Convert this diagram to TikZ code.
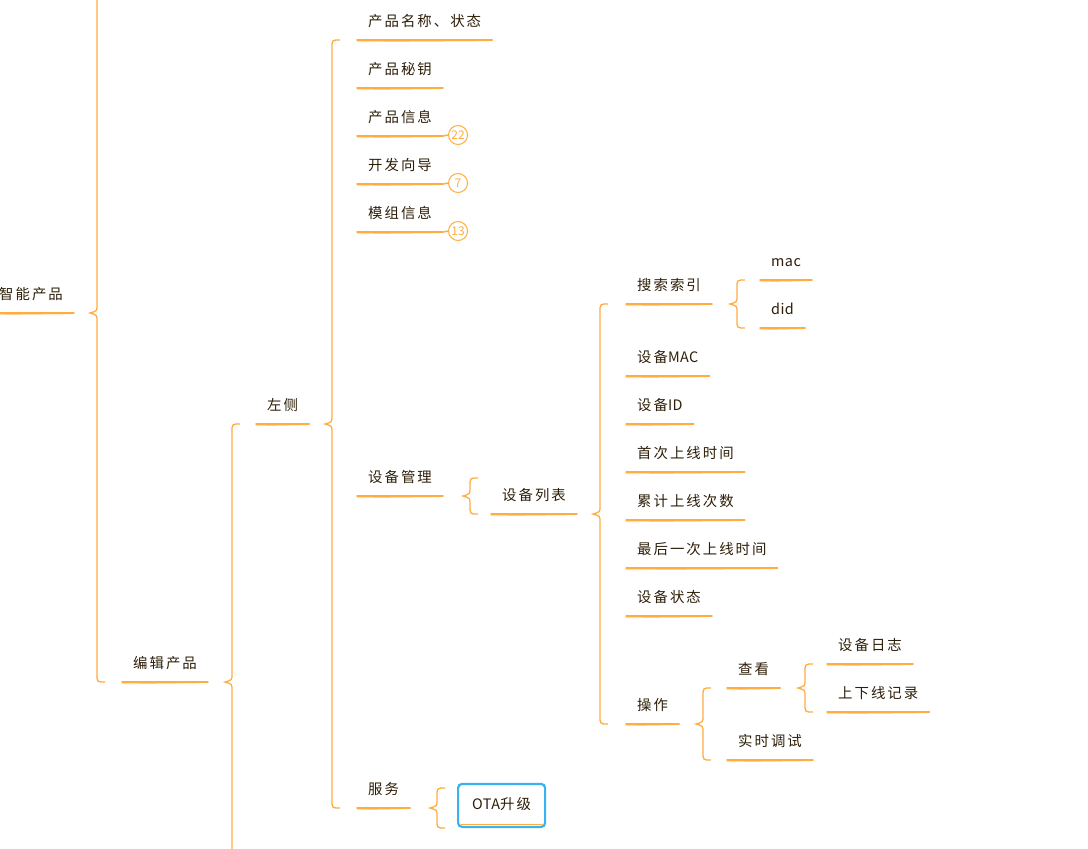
\documentclass[tikz,border=0pt]{standalone}
\usepackage{fontspec}
\newfontfamily\cjk[LetterSpace=14]{Noto Sans CJK SC}
\newfontfamily\chiffre{Noto Sans CJK SC}
\newfontfamily\latin[LetterSpace=3]{Noto Sans CJK SC}
\usetikzlibrary{calc}
\definecolor{monOrange}{RGB}{255,172,64}
\definecolor{monTexte}{RGB}{45,30,8}
\definecolor{monBleu}{RGB}{56,178,240}

% accolade : parent, enfant du haut, enfant du bas
\newcommand{\accolade}[4][24]{%
  \draw[trait] let \p1=(#2.south east), \p2=(#3), \p3=(#4), \p4=([xshift=-#1pt]#4) in
    (\x4+8pt,\y2) .. controls (\x4,\y2) .. (\x4,\y2-8pt)
    -- (\x4,\y1+8pt) .. controls (\x4,\y1+2pt) .. (\x4-7pt,\y1)
    .. controls (\x4,\y1-2pt) .. (\x4,\y1-8pt)
    -- (\x4,\y3+8pt) .. controls (\x4,\y3) .. (\x4+8pt,\y3);}

\begin{document}
\begin{tikzpicture}[x=1pt, y=-1pt,
    sujet/.style={font=\cjk\fontsize{14.4}{16}\selectfont, text=monTexte, anchor=south west,
      inner xsep=11pt, inner ysep=10pt, text height=11pt, text depth=3pt},
    trait/.style={monOrange, line width=1.3pt},
    souligne/.style={monOrange, line width=1.4pt, line cap=round},
    pastille/.style={circle, draw=monOrange, line width=1pt, minimum size=19pt, inner sep=0pt,
      text=monOrange, anchor=west, font=\chiffre\fontsize{12}{13}\selectfont},
    boite/.style={draw=monBleu, line width=2.2pt, rounded corners=4pt,
      minimum width=87pt, minimum height=43pt, inner xsep=0pt}]
        \useasboundingbox (0,0) rectangle (1088,849);
        \clip (0,0) rectangle (1088,849);

        % Racine et premier niveau
        \node[sujet] (zn) at (-12,313) {智能产品};
        \node[sujet] (bj) at (122,682) {编辑产品};
        \node[sujet] (zc) at (256,424) {左侧};
        \coordinate (haut) at (122,-40);
        \coordinate (bas) at (256,900);

        % Colonne de gauche
        \node[sujet] (mc) at (357,40) {产品名称、状态};
        \node[sujet] (my) at (357,88) {产品秘钥};
        \node[sujet] (xx) at (357,136) {产品信息};
        \node[sujet] (xd) at (357,184) {开发向导};
        \node[sujet] (mz) at (357,232) {模组信息};
        \node[sujet] (sg) at (357,496) {设备管理};
        \node[sujet] (fw) at (357,808) {服务};

        % Pastilles
        \node[pastille] (p22) at ([xshift=5pt,yshift=1pt]xx.south east) {22};
        \node[pastille] (p7) at ([xshift=5pt,yshift=1pt]xd.south east) {7};
        \node[pastille] (p13) at ([xshift=5pt,yshift=1pt]mz.south east) {13};

        % Gestion des appareils
        \node[sujet] (lb) at (491,514) {设备列表};
        \node[sujet, boite] (ota) at (457,828) {{\latin OTA}升级};
        \node[sujet] (ss) at (626,304) {搜索索引};
        \node[sujet] (mac) at (760,280) {\latin mac};
        \node[sujet] (did) at (760,328) {\latin did};
        \node[sujet] (smac) at (626,376) {设备{\latin MAC}};
        \node[sujet] (sid) at (626,424) {设备{\latin ID}};
        \node[sujet] (sc) at (626,472) {首次上线时间};
        \node[sujet] (lj) at (626,520) {累计上线次数};
        \node[sujet] (zh) at (626,568) {最后一次上线时间};
        \node[sujet] (zt) at (626,616) {设备状态};
        \node[sujet] (cz) at (626,724) {操作};
        \node[sujet] (ck) at (727,688) {查看};
        \node[sujet] (ts) at (727,760) {实时调试};
        \node[sujet] (rz) at (827,664) {设备日志};
        \node[sujet] (jl) at (827,712) {上下线记录};

        % Soulignements
        \foreach \n in {zn,bj,zc,mc,my,xx,xd,mz,sg,fw,lb,ss,mac,did,smac,sid,sc,lj,zh,zt,cz,ck,ts,rz,jl}{
            \draw[souligne] (\n.south west) -- (\n.south east);
            \draw[souligne, line width=0.7pt, opacity=.6] ([yshift=-1.8pt]\n.south west) -- ([xshift=-3pt,yshift=-0.8pt]\n.south east);
        }
        \draw[souligne] (xx.south east) -- (p22.west);
        \draw[souligne] (xd.south east) -- (p7.west);
        \draw[souligne] (mz.south east) -- (p13.west);
        \draw[souligne, line width=1pt] ([xshift=4pt,yshift=4pt]ota.south west) -- ([xshift=-4pt,yshift=4pt]ota.south east);

        % Accolades
        \accolade[25]{zn}{haut}{bj.south west}
        \accolade{bj}{zc.south west}{bas}
        \accolade[25]{zc}{mc.south west}{fw.south west}
        \accolade[21]{sg}{[yshift=36pt]lb.south west}{lb.south west}
        \accolade[20]{fw}{[yshift=40pt]ota.south west}{ota.south west}
        \accolade[26]{lb}{ss.south west}{cz.south west}
        \accolade[23]{ss}{mac.south west}{did.south west}
        \accolade{cz}{ck.south west}{ts.south west}
        \accolade[22]{ck}{rz.south west}{jl.south west}
\end{tikzpicture}
\end{document}
